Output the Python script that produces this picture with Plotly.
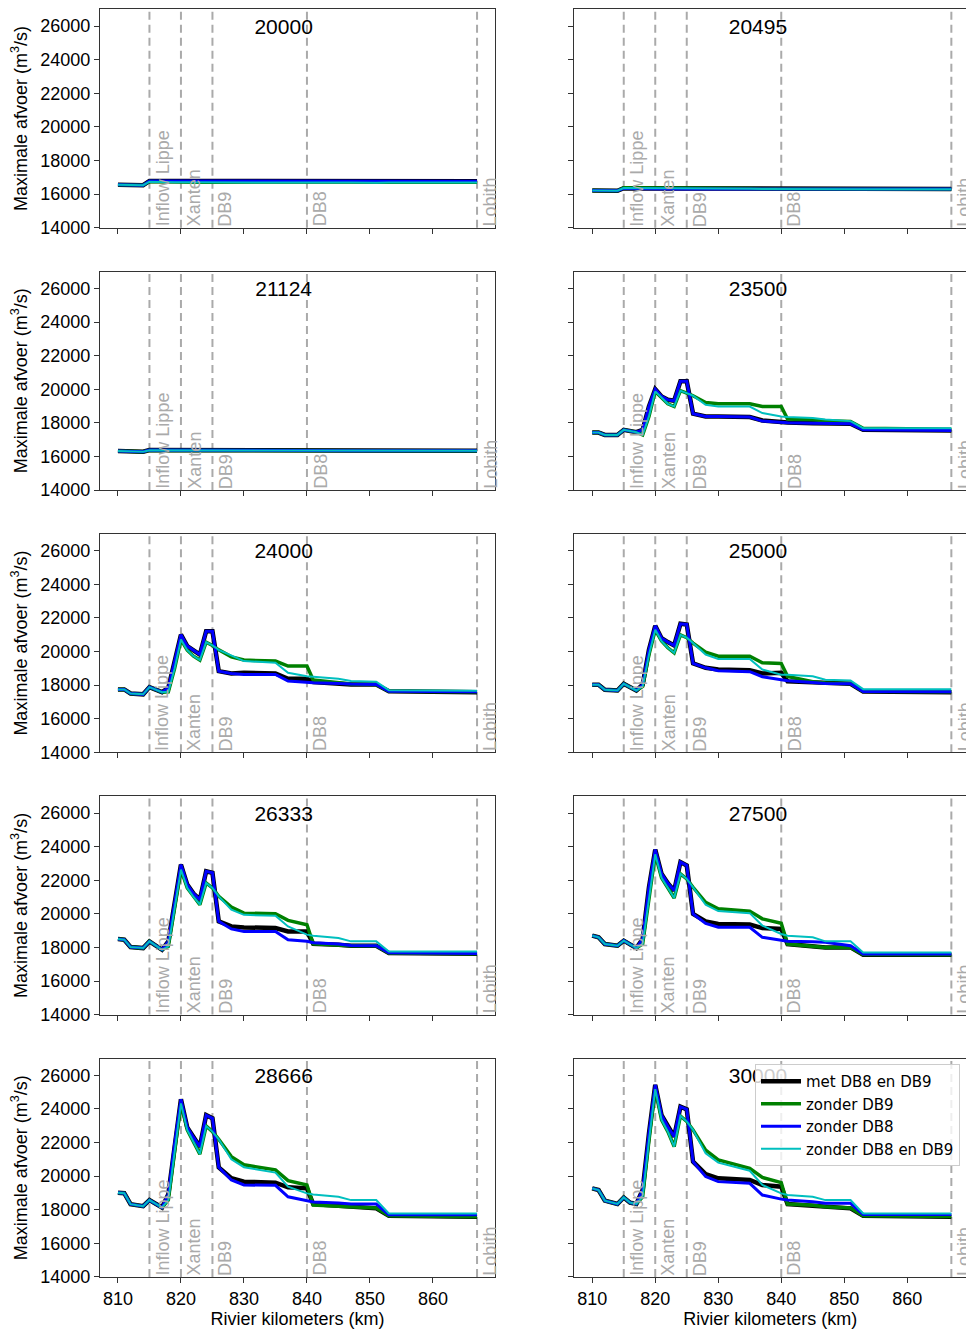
import plotly.graph_objects as go

# River kilometres at which the peak discharge was sampled
km = [810, 811, 812, 814, 815, 816, 817, 818, 819, 820, 821, 822, 823, 824,
      825, 826, 828, 830, 835, 837, 840, 841, 845, 847, 851, 853, 867]

# Upstream peak discharge of each scenario (panel titles)
scenarios = ["20000", "20495", "21124", "23500", "24000",
             "25000", "26333", "27500", "28666", "30000"]

# Maximum discharge (m3/s) per scenario, one row per scenario, one value per km
met_db8_db9 = [
    [16550, 16550, 16530, 16530, 16780, 16780, 16780, 16780, 16770, 16770, 16770, 16770, 16760, 16760,
     16760, 16760, 16760, 16760, 16760, 16760, 16760, 16760, 16760, 16760, 16760, 16760, 16760],
    [16220, 16220, 16200, 16200, 16350, 16350, 16340, 16340, 16340, 16340, 16330, 16330, 16330, 16330,
     16320, 16320, 16320, 16320, 16310, 16310, 16300, 16300, 16310, 16310, 16300, 16300, 16300],
    [16320, 16320, 16300, 16280, 16380, 16380, 16380, 16370, 16370, 16370, 16370, 16370, 16370, 16370,
     16370, 16370, 16370, 16360, 16360, 16350, 16350, 16340, 16340, 16340, 16330, 16330, 16330],
    [17420, 17420, 17280, 17280, 17580, 17500, 17440, 17580, 18970, 20000, 19570, 19370, 19310, 20470,
     20470, 18540, 18380, 18380, 18340, 18140, 18040, 18020, 17980, 17960, 17940, 17580, 17540],
    [17740, 17740, 17500, 17450, 17880, 17740, 17580, 17840, 19330, 21000, 20320, 20080, 19820, 21210,
     21210, 18830, 18690, 18730, 18690, 18380, 18380, 18180, 18100, 18040, 18040, 17640, 17580],
    [18020, 18020, 17720, 17680, 18080, 17860, 17680, 18020, 20100, 21530, 20790, 20560, 20360, 21650,
     21610, 19290, 19030, 18930, 18890, 18690, 18730, 18220, 18160, 18080, 18080, 17620, 17580],
    [18500, 18460, 18020, 17960, 18360, 18100, 17860, 18360, 20640, 22930, 21740, 21200, 20840, 22530,
     22440, 19550, 19250, 19190, 19150, 18950, 18950, 18220, 18160, 18100, 18100, 17660, 17620],
    [18700, 18600, 18200, 18100, 18400, 18200, 17960, 18500, 21580, 23820, 22380, 21820, 21380, 23080,
     22880, 19990, 19550, 19400, 19360, 19150, 19100, 18200, 18100, 18000, 18000, 17560, 17560],
    [19010, 18980, 18330, 18210, 18570, 18330, 18130, 18930, 21950, 24570, 22900, 22300, 21750, 23630,
     23440, 20520, 19870, 19670, 19610, 19330, 19270, 18340, 18220, 18140, 18080, 17640, 17580],
    [19270, 19170, 18540, 18340, 18730, 18420, 18340, 19170, 22540, 25430, 23630, 22940, 22350, 24130,
     23970, 20860, 20120, 19870, 19770, 19470, 19370, 18340, 18220, 18140, 18080, 17640, 17580],
]

zonder_db9 = [
    [16550, 16550, 16530, 16530, 16750, 16740, 16720, 16720, 16720, 16720, 16710, 16710, 16710, 16710,
     16710, 16720, 16760, 16760, 16740, 16730, 16730, 16730, 16720, 16720, 16700, 16700, 16700],
    [16220, 16220, 16200, 16200, 16380, 16380, 16370, 16370, 16370, 16370, 16360, 16360, 16360, 16360,
     16350, 16350, 16350, 16340, 16330, 16320, 16320, 16300, 16300, 16300, 16290, 16290, 16290],
    [16320, 16320, 16300, 16280, 16360, 16360, 16350, 16350, 16350, 16350, 16350, 16350, 16350, 16350,
     16350, 16350, 16350, 16350, 16340, 16340, 16340, 16330, 16330, 16330, 16320, 16320, 16320],
    [17420, 17420, 17280, 17280, 17580, 17500, 17440, 17280, 18380, 19870, 19470, 19130, 18970, 19910,
     19770, 19610, 19210, 19130, 19130, 18970, 18970, 18220, 18180, 18120, 18080, 17680, 17620],
    [17740, 17740, 17500, 17450, 17880, 17740, 17580, 17600, 19000, 20710, 20080, 19720, 19490, 20550,
     20360, 20100, 19680, 19490, 19430, 19130, 19130, 18300, 18120, 18060, 18040, 17640, 17600],
    [18020, 18020, 17720, 17680, 18080, 17860, 17680, 17920, 19800, 21290, 20620, 20220, 19920, 20990,
     20820, 20500, 19960, 19720, 19720, 19330, 19290, 18520, 18200, 18120, 18100, 17640, 17600],
    [18500, 18460, 18020, 17960, 18360, 18100, 17860, 18060, 20250, 22630, 21540, 21000, 20540, 21840,
     21540, 21040, 20400, 20040, 20000, 19610, 19350, 18220, 18160, 18100, 18100, 17660, 17620],
    [18700, 18600, 18200, 18100, 18400, 18200, 17960, 18200, 20980, 23540, 22140, 21540, 20940, 22380,
     22080, 21580, 20680, 20300, 20160, 19700, 19440, 18200, 18100, 18000, 18000, 17580, 17560],
    [19010, 18980, 18330, 18210, 18570, 18330, 18130, 18570, 21550, 24330, 22750, 22040, 21310, 22980,
     22650, 22190, 21160, 20670, 20370, 19730, 19470, 18280, 18200, 18140, 18100, 17640, 17580],
    [19270, 19170, 18540, 18340, 18730, 18420, 18340, 18770, 22100, 25170, 23350, 22650, 21760, 23580,
     23250, 22750, 21550, 20960, 20460, 19920, 19610, 18340, 18260, 18180, 18100, 17640, 17600],
]

zonder_db8 = [
    [16550, 16550, 16530, 16530, 16780, 16780, 16780, 16780, 16770, 16770, 16770, 16770, 16760, 16760,
     16760, 16760, 16760, 16760, 16760, 16760, 16760, 16760, 16760, 16760, 16760, 16760, 16760],
    [16220, 16220, 16200, 16200, 16340, 16330, 16320, 16320, 16320, 16320, 16310, 16310, 16310, 16310,
     16300, 16300, 16300, 16300, 16300, 16300, 16300, 16300, 16310, 16310, 16300, 16300, 16310],
    [16320, 16320, 16300, 16280, 16380, 16380, 16380, 16370, 16370, 16370, 16370, 16370, 16370, 16370,
     16370, 16370, 16370, 16360, 16360, 16350, 16350, 16340, 16340, 16340, 16330, 16330, 16330],
    [17420, 17420, 17280, 17280, 17580, 17500, 17440, 17580, 18970, 20000, 19570, 19370, 19310, 20470,
     20470, 18540, 18380, 18380, 18340, 18100, 18000, 18000, 17980, 17960, 17940, 17580, 17540],
    [17740, 17740, 17500, 17450, 17880, 17740, 17580, 17840, 19330, 21000, 20320, 20080, 19820, 21210,
     21210, 18830, 18690, 18630, 18630, 18240, 18140, 18140, 18100, 18060, 18040, 17640, 17600],
    [18020, 18020, 17720, 17680, 18080, 17860, 17680, 18020, 20100, 21530, 20790, 20560, 20360, 21650,
     21610, 19290, 19030, 18850, 18800, 18500, 18340, 18260, 18160, 18100, 18080, 17620, 17600],
    [18500, 18460, 18020, 17960, 18360, 18100, 17860, 18360, 20640, 22930, 21740, 21200, 20840, 22530,
     22440, 19550, 19100, 18950, 18950, 18460, 18360, 18280, 18200, 18120, 18100, 17680, 17640],
    [18700, 18600, 18200, 18100, 18400, 18200, 17960, 18500, 21580, 23820, 22380, 21820, 21380, 23080,
     22880, 19990, 19430, 19200, 19200, 18600, 18400, 18360, 18340, 18300, 18100, 17600, 17600],
    [19010, 18980, 18330, 18210, 18570, 18330, 18130, 18930, 21950, 24570, 22900, 22300, 21750, 23630,
     23440, 20520, 19770, 19470, 19450, 18770, 18570, 18460, 18400, 18340, 18340, 17700, 17700],
    [19270, 19170, 18540, 18340, 18730, 18420, 18340, 19170, 22540, 25430, 23630, 22940, 22350, 24130,
     23970, 20860, 19970, 19670, 19570, 18870, 18630, 18580, 18480, 18380, 18380, 17720, 17720],
]

zonder_db8_db9 = [
    [16550, 16550, 16530, 16530, 16740, 16720, 16700, 16700, 16700, 16700, 16700, 16700, 16700, 16700,
     16700, 16700, 16720, 16730, 16710, 16700, 16700, 16700, 16700, 16690, 16680, 16690, 16690],
    [16220, 16220, 16200, 16200, 16360, 16360, 16350, 16350, 16350, 16350, 16340, 16340, 16340, 16340,
     16330, 16330, 16330, 16330, 16320, 16310, 16300, 16300, 16300, 16300, 16290, 16290, 16290],
    [16320, 16320, 16300, 16280, 16370, 16370, 16360, 16360, 16360, 16360, 16360, 16360, 16360, 16360,
     16360, 16360, 16360, 16360, 16350, 16350, 16350, 16340, 16340, 16340, 16330, 16330, 16330],
    [17420, 17420, 17280, 17280, 17580, 17500, 17440, 17280, 18380, 19870, 19470, 19130, 18970, 19910,
     19770, 19610, 19070, 18970, 18970, 18580, 18380, 18340, 18280, 18200, 18100, 17680, 17680],
    [17740, 17740, 17500, 17450, 17880, 17740, 17580, 17600, 19000, 20710, 20080, 19720, 19490, 20550,
     20360, 20100, 19750, 19430, 19330, 18730, 18530, 18500, 18380, 18240, 18200, 17700, 17660],
    [18020, 18020, 17720, 17680, 18080, 17860, 17680, 17920, 19800, 21290, 20620, 20220, 19920, 20990,
     20820, 20500, 19820, 19560, 19560, 18930, 18620, 18620, 18520, 18320, 18280, 17760, 17760],
    [18500, 18460, 18020, 17960, 18360, 18100, 17860, 18060, 20250, 22630, 21540, 21000, 20540, 21840,
     21540, 21040, 20250, 19940, 19880, 19250, 18760, 18700, 18560, 18360, 18360, 17760, 17760],
    [18700, 18600, 18200, 18100, 18400, 18200, 17960, 18200, 20980, 23540, 22140, 21540, 20940, 22380,
     22080, 21580, 20540, 20160, 20040, 19300, 18800, 18700, 18600, 18360, 18360, 17700, 17700],
    [19010, 18980, 18330, 18210, 18570, 18330, 18130, 18570, 21550, 24330, 22750, 22040, 21310, 22980,
     22650, 22190, 21000, 20530, 20210, 19370, 18970, 18910, 18770, 18570, 18570, 17780, 17780],
    [19270, 19170, 18540, 18340, 18730, 18420, 18340, 18770, 22100, 25170, 23350, 22650, 21760, 23580,
     23250, 22750, 21350, 20800, 20320, 19470, 18970, 18870, 18770, 18570, 18570, 17780, 17780],
]

# Reference locations along the river
marker_km = [815, 820, 825, 840, 867]
marker_names = ["Inflow Lippe", "Xanten", "DB9", "DB8", "Lobith"]

# Axis ticks
x_ticks = [810, 820, 830, 840, 850, 860]
y_ticks = [14000, 16000, 18000, 20000, 22000, 24000, 26000]

series = [
    ("met DB8 en DB9", met_db8_db9, "#000000", 4.5),
    ("zonder DB9", zonder_db9, "#008000", 3.5),
    ("zonder DB8", zonder_db8, "#0000ff", 3.0),
    ("zonder DB8 en DB9", zonder_db8_db9, "#00bfbf", 2.0),
]

W, H = 966, 1329
ML, MB = 100, 52
PW, PH = W - ML, H - MB

# Panel geometry in pixels
col_px = [(100, 495), (574.3, 966)]
row_top0, row_step, row_h = 9.3, 262.3, 218.4
px_per_km = 395 / 62.7
x_lo = 807.15

font_main = "Liberation Sans, Arial, sans-serif"
gray = "#aaaaaa"
spine = "#333333"

fig = go.Figure()
layout = dict(
    width=W, height=H,
    margin=dict(l=ML, r=0, t=0, b=MB),
    paper_bgcolor="white", plot_bgcolor="white",
    font=dict(family=font_main, size=18, color="black"),
    showlegend=True,
    legend=dict(
        x=(960 - ML) / PW, xanchor="right",
        y=(PH - 1064) / PH, yanchor="top",
        bgcolor="rgba(255,255,255,0.8)",
        bordercolor="#cccccc", borderwidth=1,
        font=dict(family="DejaVu Sans", size=15, color="black"),
        tracegroupgap=0, itemwidth=40,
    ),
)
shapes, annotations = [], []

for i, name in enumerate(scenarios):
    r, c = divmod(i, 2)
    n = i + 1
    xa = "x" if n == 1 else f"x{n}"
    ya = "y" if n == 1 else f"y{n}"

    left, right = col_px[c]
    top = row_top0 + r * row_step
    bottom = top + row_h
    x_hi = x_lo + (right - left) / px_per_km

    for label, data, color, width in series:
        fig.add_trace(go.Scatter(
            x=km, y=data[i], mode="lines", name=label,
            line=dict(color=color, width=width),
            xaxis=xa, yaxis=ya, showlegend=(i == 0),
            hoverinfo="skip",
        ))

    # Panel title inside the plotting area
    fig.add_trace(go.Scatter(
        x=[836.3], y=[25850], mode="text", text=[name],
        textposition="middle center",
        textfont=dict(family=font_main, size=21, color="black"),
        xaxis=xa, yaxis=ya, showlegend=False, hoverinfo="skip",
    ))

    bottom_row = r == 4
    left_col = c == 0
    xaxis = dict(
        domain=[(left - ML) / PW, (right - ML) / PW],
        anchor=ya, range=[x_lo, x_hi],
        tickmode="array", tickvals=x_ticks, tickformat="d",
        ticks="outside", ticklen=5, tickwidth=1, tickcolor=spine,
        showticklabels=bottom_row,
        tickfont=dict(size=18, color="black"),
        showline=True, linecolor=spine, linewidth=1, mirror=True,
        showgrid=False, zeroline=False,
        automargin=False,
    )
    if bottom_row:
        xaxis["title"] = dict(text="Rivier kilometers (km)",
                              font=dict(size=18), standoff=4)
    yaxis = dict(
        domain=[(PH - bottom) / PH, (PH - top) / PH],
        anchor=xa, range=[14000, 27000],
        tickmode="array", tickvals=y_ticks, tickformat="d",
        ticks="outside", ticklen=5, tickwidth=1, tickcolor=spine,
        showticklabels=left_col,
        tickfont=dict(size=18, color="black"),
        showline=True, linecolor=spine, linewidth=1, mirror=left_col,
        showgrid=False, zeroline=False,
        automargin=False,
    )
    if left_col:
        yaxis["title"] = dict(text="Maximale afvoer (m<sup>3</sup>/s)",
                              font=dict(size=18), standoff=8)
    layout["xaxis" if n == 1 else f"xaxis{n}"] = xaxis
    layout["yaxis" if n == 1 else f"yaxis{n}"] = yaxis

    for xv, lab in zip(marker_km, marker_names):
        shapes.append(dict(
            type="line", xref=xa, yref=f"{ya} domain",
            x0=xv, x1=xv, y0=0, y1=1, layer="below",
            line=dict(color=gray, width=2, dash="8px,5px"),
        ))
        annotations.append(dict(
            x=xv + 0.35, y=14000, xref=xa, yref=ya,
            xanchor="left", yanchor="bottom", textangle=-90,
            text=lab, showarrow=False, borderpad=0,
            font=dict(family=font_main, size=18, color=gray),
        ))

layout["shapes"] = shapes
layout["annotations"] = annotations
fig.update_layout(**layout)
fig.write_html("out.html")
